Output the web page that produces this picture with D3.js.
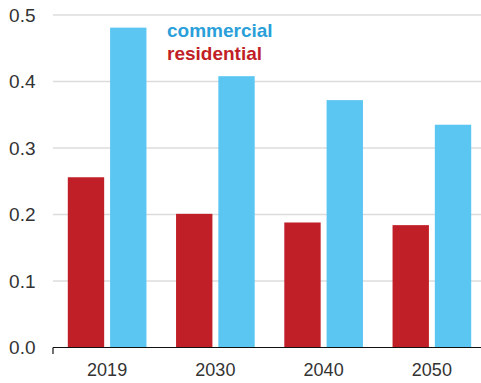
<!DOCTYPE html>
<html><head><meta charset="utf-8">
<script src="https://cdn.jsdelivr.net/npm/d3@7/dist/d3.min.js"></script>
<style>body{margin:0;background:#fff}svg{display:block}</style>
</head><body><svg id="c" width="481" height="383"></svg>
<script>
const categories = ["2019","2030","2040","2050"];
const seriesNames = ["residential","commercial"];
const residential = [0.256, 0.201, 0.188, 0.184];
const commercial = [0.481, 0.408, 0.372, 0.335];
const yTicks = [0.0,0.1,0.2,0.3,0.4,0.5];
const colors = {residential:"#c11f27", commercial:"#5bc6f2"};
const legendColors = {commercial:"#2a9fd9", residential:"#c11f27"};

const svg = d3.select("#c");
const font = "Liberation Sans, Arial, Helvetica, sans-serif";
const x = d3.scaleBand().domain(categories).range([53, 486]).paddingInner(0).paddingOuter(0);
const x1 = d3.scaleBand().domain(seriesNames).range([14.8, x.bandwidth()-14.8]).paddingInner(0.14);
const y = d3.scaleLinear().domain([0,0.5]).range([347.5, 15]);

// gridlines
svg.append("g").selectAll("line").data(yTicks.filter(d=>d>0)).join("line")
  .attr("x1",53).attr("x2",481).attr("y1",d=>y(d)).attr("y2",d=>y(d))
  .attr("stroke","#dcdcdc").attr("stroke-width",1.5);

// y labels
svg.append("g").selectAll("text").data(yTicks).join("text")
  .attr("x",35.5).attr("y",d=>y(d)).attr("dy","0.35em").attr("text-anchor","end")
  .attr("font-family",font).attr("font-size",19).attr("fill","#333")
  .text(d=>d.toFixed(1));

const data = categories.map((c,i)=>({cat:c, residential:residential[i], commercial:commercial[i]}));
const g = svg.append("g");
data.forEach(d=>{
  seriesNames.forEach(s=>{
    g.append("rect")
      .attr("x", x(d.cat)+x1(s)).attr("width", x1.bandwidth())
      .attr("y", y(d[s])).attr("height", y(0)-y(d[s]))
      .attr("fill", colors[s]);
  });
});

// x axis
const ax = svg.append("g");
ax.append("line").attr("x1",53).attr("x2",481).attr("y1",347.5).attr("y2",347.5).attr("stroke","#111").attr("stroke-width",1.2);
ax.append("line").attr("x1",53).attr("x2",53).attr("y1",347.5).attr("y2",354).attr("stroke","#111").attr("stroke-width",1.2);
ax.selectAll("text.xl").data(categories).join("text").attr("class","xl")
  .attr("x",d=>x(d)+x.bandwidth()/2).attr("y",375.5)
  .attr("text-anchor","middle").attr("font-family",font).attr("font-size",18).attr("fill","#333")
  .text(d=>d);

// legend
const leg = [{name:"commercial", y:37},{name:"residential", y:60}];
svg.append("g").selectAll("text").data(leg).join("text")
  .attr("x",167).attr("y",d=>d.y).attr("font-family",font).attr("font-weight","bold")
  .attr("font-size",19).attr("fill",d=>legendColors[d.name]).text(d=>d.name);
</script></body></html>
